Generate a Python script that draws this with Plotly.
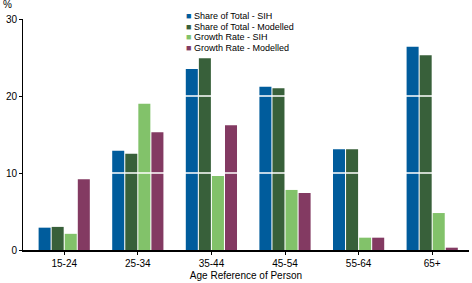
import plotly.graph_objects as go

# 年龄组
age_groups = ["15-24", "25-34", "35-44", "45-54", "55-64", "65+"]

share_sih = [2.9, 12.9, 23.5, 21.2, 13.1, 26.4]
share_modelled = [3.0, 12.5, 24.9, 21.0, 13.1, 25.3]
growth_sih = [2.1, 19.0, 9.6, 7.8, 1.6, 4.8]
growth_modelled = [9.2, 15.3, 16.2, 7.4, 1.6, 0.3]

series_names = ["Share of Total - SIH", "Share of Total - Modelled",
                "Growth Rate - SIH", "Growth Rate - Modelled"]
series_values = [share_sih, share_modelled, growth_sih, growth_modelled]
series_colors = ["#005C9C", "#38603A", "#82C26A", "#833A62"]

y_ticks = [0, 10, 20, 30]

FONT = "Liberation Sans, Arial, sans-serif"

fig = go.Figure()
for name, vals, col in zip(series_names, series_values, series_colors):
    fig.add_trace(go.Bar(
        x=age_groups, y=vals, name=name,
        marker=dict(color=col, line=dict(width=0)),
        showlegend=False,
    ))

# 白色网格线画在柱子上方
shapes = []
for t in y_ticks[1:-1]:
    shapes.append(dict(type="line", xref="paper", x0=0, x1=1, yref="y", y0=t, y1=t,
                       line=dict(color="white", width=1.5), layer="above"))

# 手工图例（紧凑行距）
annotations = []
for i, (name, col) in enumerate(zip(series_names, series_colors)):
    annotations.append(dict(
        xref="paper", yref="paper", x=0.362, y=1.012 - i * 0.046,
        xanchor="left", yanchor="middle", showarrow=False,
        text=f"<span style='color:{col}'>■</span> {name}",
        font=dict(family=FONT, size=9, color="black"),
    ))
annotations.append(dict(
    xref="paper", yref="paper", x=-0.035, y=1.03, xanchor="center", yanchor="bottom",
    showarrow=False, text="%", font=dict(family=FONT, size=10, color="black"),
))

fig.update_layout(
    width=472, height=283,
    margin=dict(l=23, r=3, t=19, b=33),
    paper_bgcolor="white", plot_bgcolor="white",
    barmode="group", bargap=0.29, bargroupgap=0.08,
    font=dict(family=FONT, size=10, color="black"),
    xaxis=dict(
        range=[-0.56, 5.5],
        showline=True, linecolor="black", linewidth=1.5,
        ticks="outside", ticklen=3, tickcolor="black",
        title=dict(text="Age Reference of Person", font=dict(size=10), standoff=4),
        tickfont=dict(size=10),
    ),
    yaxis=dict(
        range=[0, 30], tickvals=y_ticks,
        showgrid=False, zeroline=False,
        showline=True, linecolor="black", linewidth=1,
        ticks="outside", ticklen=3, tickcolor="black",
        tickfont=dict(size=10),
    ),
    shapes=shapes,
    annotations=annotations,
)

fig.write_html("out.html", config={"displayModeBar": False},
               post_script="document.body.style.margin='0';")
